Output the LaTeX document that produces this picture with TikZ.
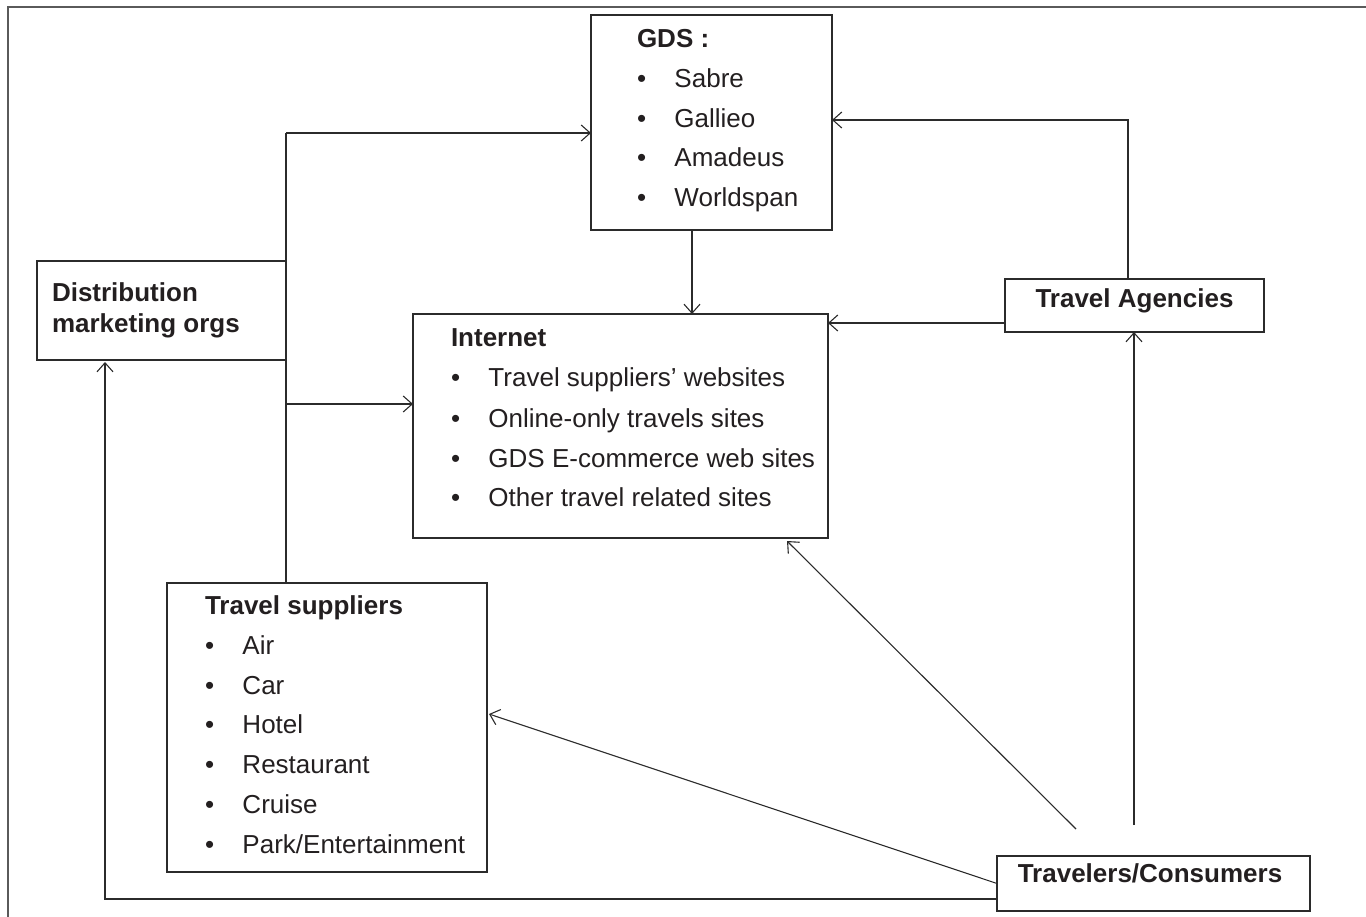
\documentclass[tikz,border=0pt]{standalone}
\usepackage{fontspec}
\setmainfont{Liberation Sans}
\usetikzlibrary{arrows.meta}
\definecolor{linec}{HTML}{2B2B2B}
\definecolor{textc}{HTML}{231F20}
\definecolor{framec}{HTML}{5A5A5A}
\newcommand{\bul}[1]{\makebox[37.5pt][l]{•}#1}
\begin{document}
\begin{tikzpicture}[x=1pt,y=-1pt,
  box/.style={draw=linec, line width=1.3pt, rectangle, inner sep=0pt, outer sep=0pt, anchor=north west},
  txt/.style={anchor=base west, inner sep=0pt, outer sep=0pt, text=textc, font=\fontsize{26}{31}\selectfont},
  hd/.style={txt, font=\fontsize{26}{31}\selectfont\bfseries},
  conn/.style={draw=linec, line width=1.1pt},
  arr/.style={conn, -{Straight Barb[length=9pt,width=16pt]}},
  frame/.style={draw=framec, line width=1.8pt}]
\useasboundingbox (0,0) rectangle (1366,917);
\draw[frame] (8,917) -- (8,7) -- (1366,7);

% boxes
\node[box, minimum width=241pt, minimum height=215pt] (gds) at (591,15) {};
\node[box, minimum width=249pt, minimum height=99pt] (dist) at (37,261) {};
\node[box, minimum width=415pt, minimum height=224pt] (inet) at (413,314) {};
\node[box, minimum width=259pt, minimum height=53pt] (agen) at (1005,279) {};
\node[box, minimum width=320pt, minimum height=289pt] (supp) at (167,583) {};
\node[box, minimum width=313pt, minimum height=55pt] (trav) at (997,856) {};

% GDS text
\node[hd] (gdsh) at (637,48) {GDS :};
\node[txt] (g1) at (637,88) {\bul{Sabre}};
\node[txt] (g2) at (637,128) {\bul{Gallieo}};
\node[txt] (g3) at (637,167) {\bul{Amadeus}};
\node[txt] (g4) at (637,207) {\bul{Worldspan}};

% Distribution text
\node[hd] (d1) at (52,302) {Distribution};
\node[hd] (d2) at (52,333) {marketing orgs};

% Internet text
\node[hd] (ih) at (451,347) {Internet};
\node[txt] (i1) at (451,387) {\bul{Travel suppliers’ websites}};
\node[txt] (i2) at (451,427) {\bul{Online-only travels sites}};
\node[txt] (i3) at (451,467) {\bul{GDS E-commerce web sites}};
\node[txt] (i4) at (451,506) {\bul{Other travel related sites}};

% Travel agencies
\node[hd, anchor=base] (ah) at (1134.5,308) {Travel Agencies};

% Travel suppliers text
\node[hd] (sh) at (205,614) {Travel suppliers};
\node[txt] (s1) at (205,654) {\bul{Air}};
\node[txt] (s2) at (205,694) {\bul{Car}};
\node[txt] (s3) at (205,733) {\bul{Hotel}};
\node[txt] (s4) at (205,773) {\bul{Restaurant}};
\node[txt] (s5) at (205,813) {\bul{Cruise}};
\node[txt] (s6) at (205,853) {\bul{Park/Entertainment}};

% Travelers
\node[hd, anchor=base] (th) at (1150,882) {Travelers/Consumers};

% connector coordinates
\coordinate (jg) at (286,133);
\coordinate (ji) at (286,404);
\coordinate (gx) at (692,230);
\coordinate (ax) at (1128,120);
\coordinate (ay) at (1005,323);
\coordinate (t1) at (1134,825);
\coordinate (t2) at (1076,829);

% connectors
\draw[conn] (supp.north -| jg) -- (jg);
\draw[arr] (jg) -- (jg -| gds.west);
\draw[arr] (ji) -- (ji -| inet.west);
\draw[arr] (gx) -- (gx |- inet.north);
\draw[arr] (agen.north -| ax) -- (ax) -- (ax -| gds.east);
\draw[arr] (ay) -- (ay -| inet.east);
\draw[arr] (t1) -- (t1 |- agen.south);
\draw[arr] (t2) -- ([xshift=-41pt,yshift=-3pt]inet.south east);
\draw[arr] (trav.west) -- ([xshift=2pt,yshift=13.5pt]supp.east);
\draw[arr] ([yshift=-15.5pt]trav.west) -| ([xshift=-56.5pt,yshift=-2pt]dist.south);
\end{tikzpicture}
\end{document}
